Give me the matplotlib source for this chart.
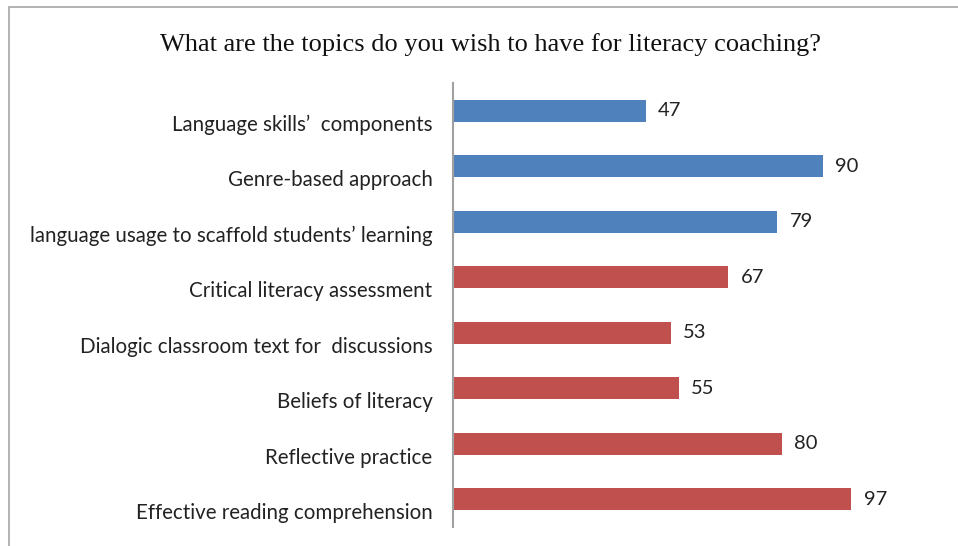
import matplotlib
matplotlib.use("Agg")
import matplotlib.pyplot as plt
from matplotlib.patches import Rectangle
from matplotlib.transforms import ScaledTranslation

topics = [
    "Language skills’  components",
    "Genre-based approach",
    "language usage to scaffold students’ learning",
    "Critical literacy assessment",
    "Dialogic classroom text for  discussions",
    "Beliefs of literacy",
    "Reflective practice",
    "Effective reading comprehension",
]
counts = [47, 90, 79, 67, 53, 55, 80, 97]
groups = ["blue", "blue", "blue", "red", "red", "red", "red", "red"]
palette = {"blue": "#4F81BD", "red": "#C0504D"}

W, H = 958, 546
fig = plt.figure(figsize=(W / 100, H / 100), dpi=100)

# outer chart frame (only left/top visible in the source)
fig.patches.append(Rectangle((9 / W, 0 - 0.01), 1.1, 1 - 7 / H + 0.01,
                             transform=fig.transFigure, fill=False,
                             edgecolor="#A6A6A6", lw=1.2))

ax = fig.add_axes([452.7 / W, 1 - 527 / H, (946 - 452.7) / W, (527 - 83) / H])
y = list(range(len(topics)))
ax.barh(y, counts, height=0.4, color=[palette[g] for g in groups])
ax.set_xlim(0, 120)
ax.set_ylim(len(topics) - 0.5, -0.5)

for yi, v in zip(y, counts):
    ax.text(v + 3.0, yi, str(v), va="center", ha="left",
            fontsize=14.5, family="Lato", color="#222222")

ax.set_yticks(y)
ax.set_yticklabels(topics, fontsize=14.8, family="Lato", color="#222222")
ax.tick_params(axis="y", length=0, pad=14.5)
# category labels sit a little below their bars in the source
shift = ScaledTranslation(0, -12 / 100, fig.dpi_scale_trans)
for lab in ax.get_yticklabels():
    lab.set_transform(lab.get_transform() + shift)
ax.set_xticks([])
for s in ("top", "right", "bottom"):
    ax.spines[s].set_visible(False)
ax.spines["left"].set_color("#A0A0A0")
ax.spines["left"].set_linewidth(1.5)

fig.text(491 / W, 1 - 45 / H, "What are the topics do you wish to have for literacy coaching?",
         ha="center", va="center", fontsize=19, family="Liberation Serif", color="#111111")

fig.savefig("out.png", dpi=100)
